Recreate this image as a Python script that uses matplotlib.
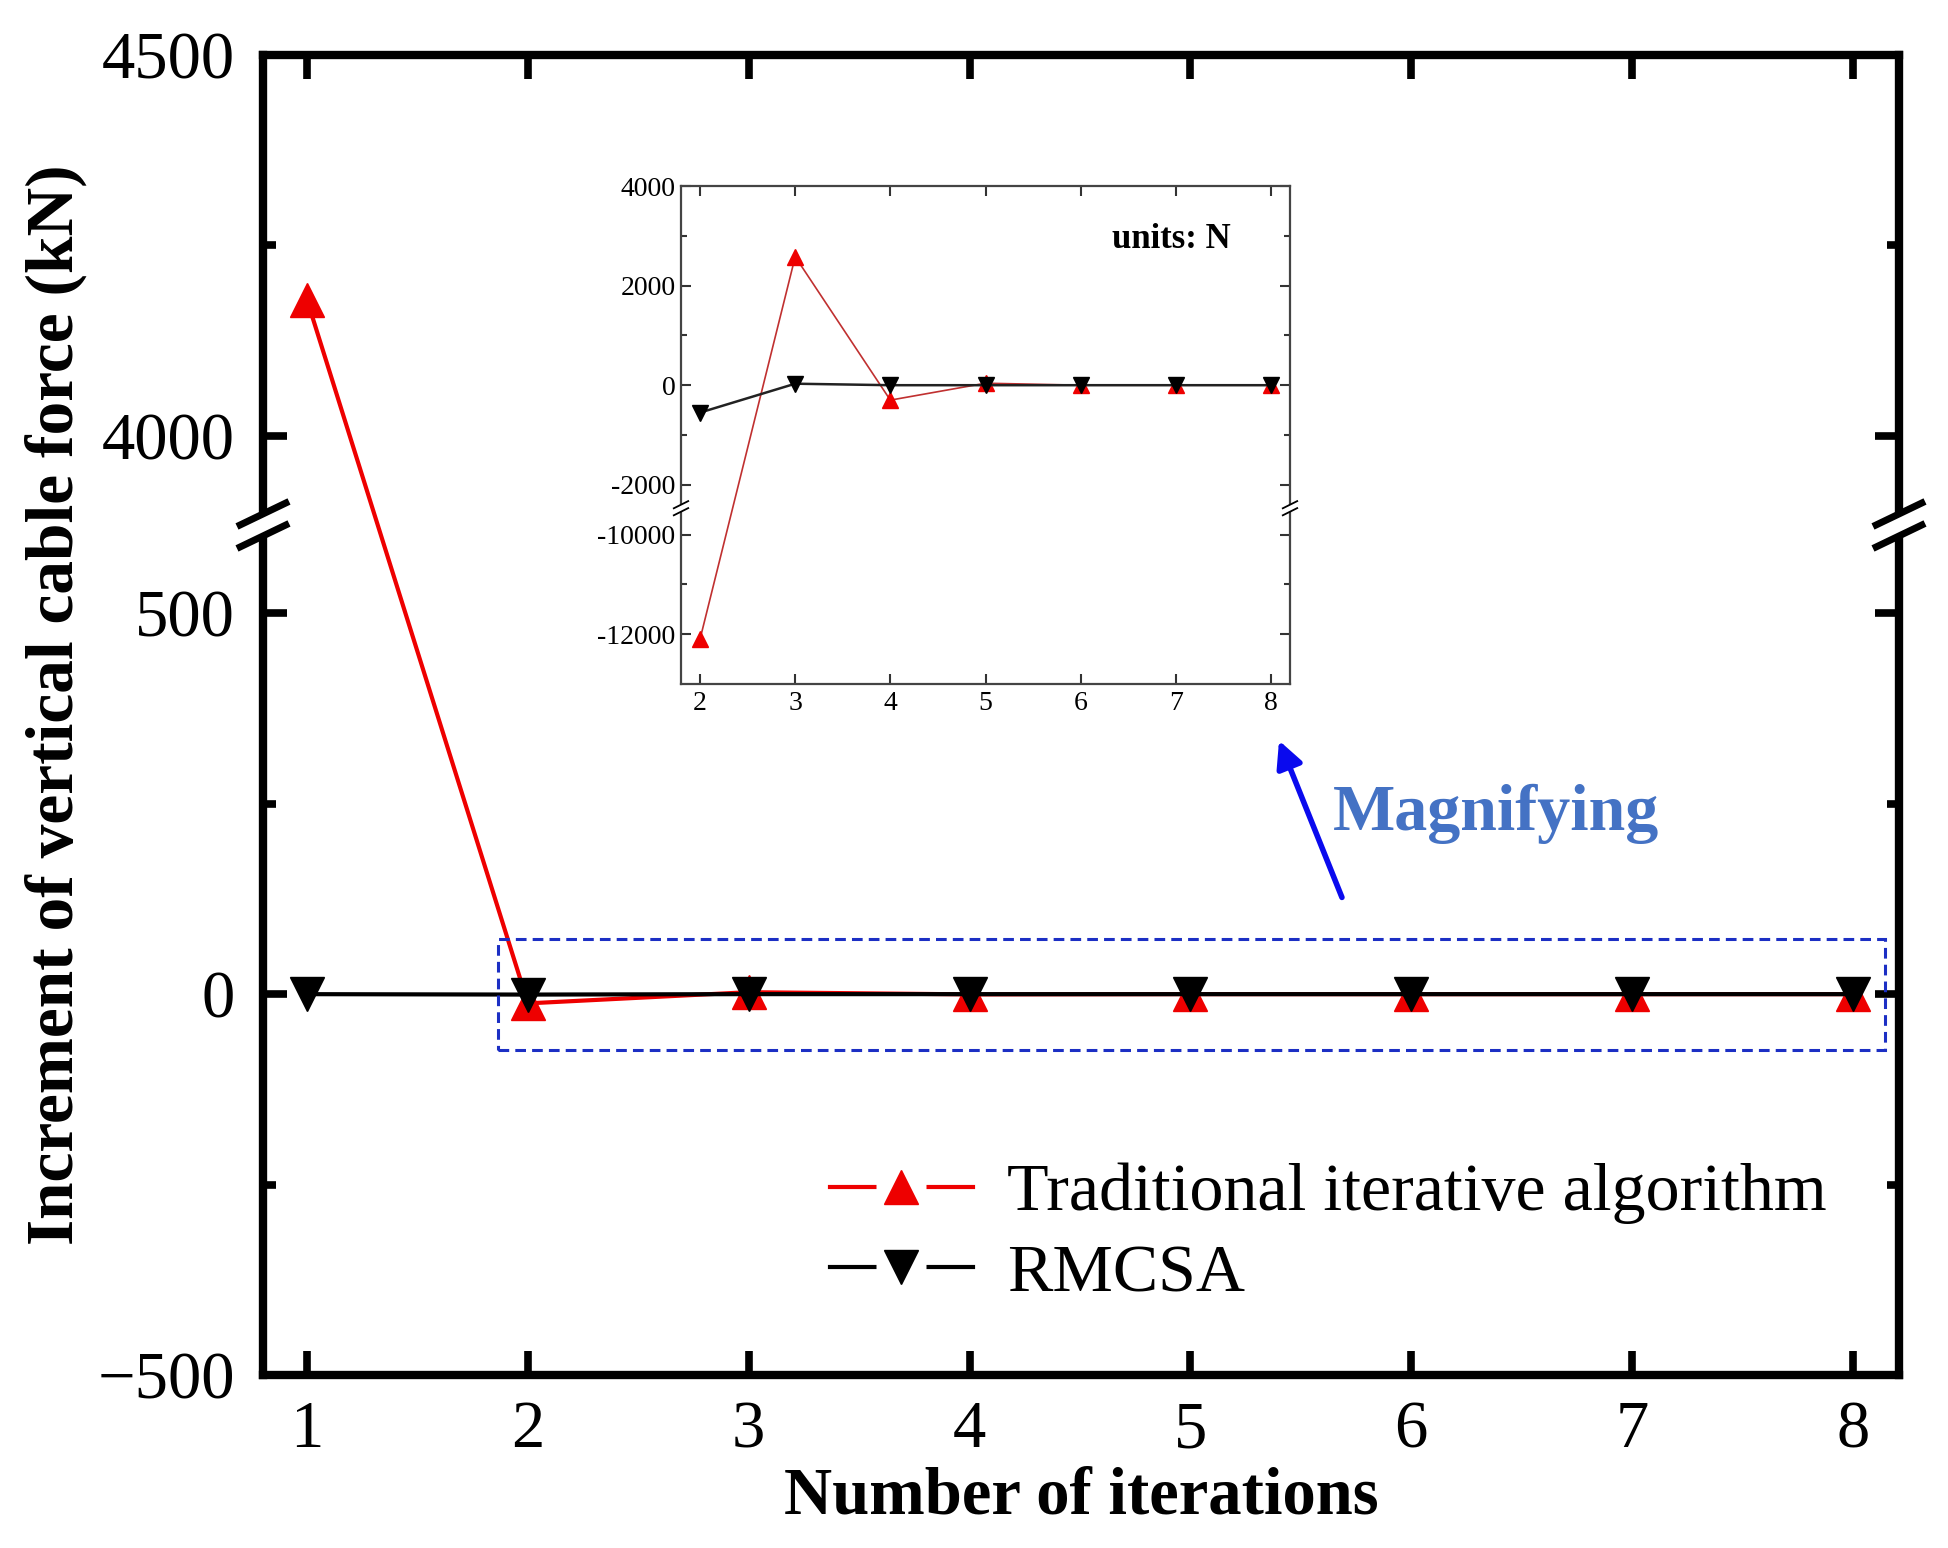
#importamos las librerias
import numpy as np
import matplotlib
matplotlib.use("Agg")
import matplotlib.pyplot as plt
from matplotlib.ticker import FixedLocator, FixedFormatter, NullFormatter
from matplotlib.patches import Rectangle, FancyArrowPatch, Polygon
from matplotlib.lines import Line2D

plt.rcParams['font.family'] = ['Liberation Serif', 'DejaVu Serif']

#datos del grafico principal (kN)
iteraciones = [1, 2, 3, 4, 5, 6, 7, 8]
trad_kN = [4178, -12.1, 2.58, -0.3, 0.04, 0, 0, 0]
rmcsa_kN = [0, -0.55, 0.03, 0, 0, 0, 0, 0]

#datos del grafico ampliado (N)
iter_zoom = [2, 3, 4, 5, 6, 7, 8]
trad_N = [-12100, 2580, -300, 40, 0, 0, 0]
rmcsa_N = [-550, 30, 0, 0, 0, 0, 0]

#ticks
main_yticks = [-500, 0, 500, 4000, 4500]
main_ylabels = ['\u2212500', '0', '500', '4000', '4500']
main_yminor = [-250, 250, 4250]
zoom_yticks = [-12000, -10000, -2000, 0, 2000, 4000]
zoom_ylabels = ['-12000', '-10000', '-2000', '0', '2000', '4000']
zoom_yminor = [-11000, -1000, 1000, 3000]

W, H = 1949, 1548
fig = plt.figure(figsize=(W / 100, H / 100), dpi=100)


#escala con corte: elimina el intervalo (lo, hi)
def escala_rota(lo, hi):
    gap = hi - lo

    def fwd(y):
        y = np.asarray(y, float)
        return np.where(y <= lo, y, np.where(y >= hi, y - gap, lo))

    def inv(u):
        u = np.asarray(u, float)
        return np.where(u <= lo, u, u + gap)
    return fwd, inv


#dibuja las dos rayitas del corte en ambos lados
def marcar_corte(ax, yb, dx_px, rise_px, sep_px, lw, blanco_px):
    pos = ax.get_position()
    aw, ah = pos.width * W, pos.height * H
    dx = dx_px / aw
    r = rise_px / ah
    s = sep_px / ah
    bw = blanco_px / aw
    for x0 in (0, 1):
        poly = Polygon([(x0 - bw, yb - s - r * bw / dx), (x0 + bw, yb - s + r * bw / dx),
                        (x0 + bw, yb + s + r * bw / dx), (x0 - bw, yb + s - r * bw / dx)],
                       closed=True, transform=ax.transAxes, facecolor='white',
                       edgecolor='none', clip_on=False, zorder=10)
        ax.add_patch(poly)
        for sg in (-1, 1):
            ax.add_line(Line2D([x0 - dx, x0 + dx], [yb + sg * s - r, yb + sg * s + r],
                               transform=ax.transAxes, color='black', lw=lw,
                               clip_on=False, zorder=11, solid_capstyle='butt'))


#grafico principal
ax = fig.add_axes([263 / W, 1 - 1375 / H, 1636 / W, 1320 / H])
lo, hi = 616, 3883
ax.set_yscale('function', functions=escala_rota(lo, hi))
ax.plot(iteraciones, trad_kN, color='#ee0000', lw=3, marker='^', ms=24, zorder=3)
ax.plot(iteraciones, rmcsa_kN, color='black', lw=3, marker='v', ms=24, zorder=4)
ax.set_xlim(0.8, 8.21)
ax.set_ylim(-500, 4500)
ax.set_xticks(iteraciones)
ax.yaxis.set_major_locator(FixedLocator(main_yticks))
ax.yaxis.set_major_formatter(FixedFormatter(main_ylabels))
ax.yaxis.set_minor_locator(FixedLocator(main_yminor))
ax.yaxis.set_minor_formatter(NullFormatter())
ax.tick_params(which='both', direction='in', top=True, right=True, labelsize=48)
ax.tick_params(which='major', length=17, width=5.5)
ax.tick_params(which='minor', length=9, width=5.5)
ax.tick_params(axis='y', pad=20)
ax.tick_params(axis='x', pad=18)
for sp in ax.spines.values():
    sp.set_linewidth(6)

yb = (lo + 500) / (4500 - (hi - lo) + 500)
marcar_corte(ax, yb, 26, 12.5, 11, 5, 8)

#leyenda: linea + hueco blanco + marcador (estilo Origin)
def handle_origin(color, marcador):
    linea = Line2D([], [], color=color, lw=3)
    hueco = Line2D([], [], ls='none', marker='s', ms=36, markerfacecolor='white',
                   markeredgecolor='none')
    punto = Line2D([], [], ls='none', marker=marcador, ms=24, color=color)
    return (linea, hueco, punto)


ax.legend([handle_origin('#ee0000', '^'), handle_origin('black', 'v')],
          ['Traditional iterative algorithm', 'RMCSA'],
          loc='center left', bbox_to_anchor=(830 / W, 1 - 1234 / H),
          bbox_transform=fig.transFigure, frameon=False, fontsize=49,
          borderpad=0, borderaxespad=0, handlelength=2.1, handletextpad=0.5,
          labelspacing=0.28)

#recuadro azul punteado
ax.add_patch(Rectangle((1.865, -73), 6.28, 146, fill=False, edgecolor='#1c2fc4',
                       lw=2.2, linestyle=(0, (3.5, 2)), clip_on=False, zorder=5))

#flecha y texto
fig.patches.append(FancyArrowPatch((1343 / W, 1 - 900 / H), (1278 / W, 1 - 738 / H),
                                   transform=fig.transFigure, arrowstyle='-|>',
                                   mutation_scale=40, color='#0a0aee', lw=4))
fig.text(1333 / W, 1 - 830 / H, 'Magnifying', fontsize=47.5, fontweight='bold',
         color='#4472C4', ha='left', va='baseline')

#etiquetas de los ejes
fig.text(1081 / W, 1 - 1514 / H, 'Number of iterations', fontsize=48,
         fontweight='bold', ha='center', va='baseline')
fig.text(56 / W, 1 - 705 / H, 'Increment of vertical cable force (kN)', fontsize=48.5,
         fontweight='bold', ha='center', va='center', rotation=90)

#grafico ampliado
axi = fig.add_axes([681 / W, 1 - 684 / H, 609 / W, 498 / H])
lo2, hi2 = -9470, -2470
axi.set_yscale('function', functions=escala_rota(lo2, hi2))
axi.plot(iter_zoom, trad_N, color='#c03030', lw=1.2, marker='^', ms=11,
         markerfacecolor='#ee0000', markeredgecolor='#ee0000', zorder=3)
axi.plot(iter_zoom, rmcsa_N, color='#222222', lw=1.8, marker='v', ms=11,
         markerfacecolor='black', markeredgecolor='black', zorder=4)
axi.set_xlim(1.8, 8.2)
axi.set_ylim(-13000, 4000)
axi.set_xticks(iter_zoom)
axi.yaxis.set_major_locator(FixedLocator(zoom_yticks))
axi.yaxis.set_major_formatter(FixedFormatter(zoom_ylabels))
axi.yaxis.set_minor_locator(FixedLocator(zoom_yminor))
axi.yaxis.set_minor_formatter(NullFormatter())
axi.tick_params(which='both', direction='in', top=True, right=True, labelsize=20,
                color='#333333')
axi.tick_params(which='major', length=7, width=1.5)
axi.tick_params(which='minor', length=4, width=1.5)
axi.tick_params(axis='y', pad=4)
axi.tick_params(axis='x', pad=5)
for sp in axi.spines.values():
    sp.set_linewidth(1.6)
    sp.set_color('#444444')
yb2 = (lo2 + 13000) / (4000 - (hi2 - lo2) + 13000)
marcar_corte(axi, yb2, 8, 4, 3.5, 1.3, 2.5)

fig.text(1171 / W, 1 - 240 / H, 'units: N', fontsize=25, fontweight='bold',
         ha='center', va='center')

fig.savefig('out.png', dpi=100)
